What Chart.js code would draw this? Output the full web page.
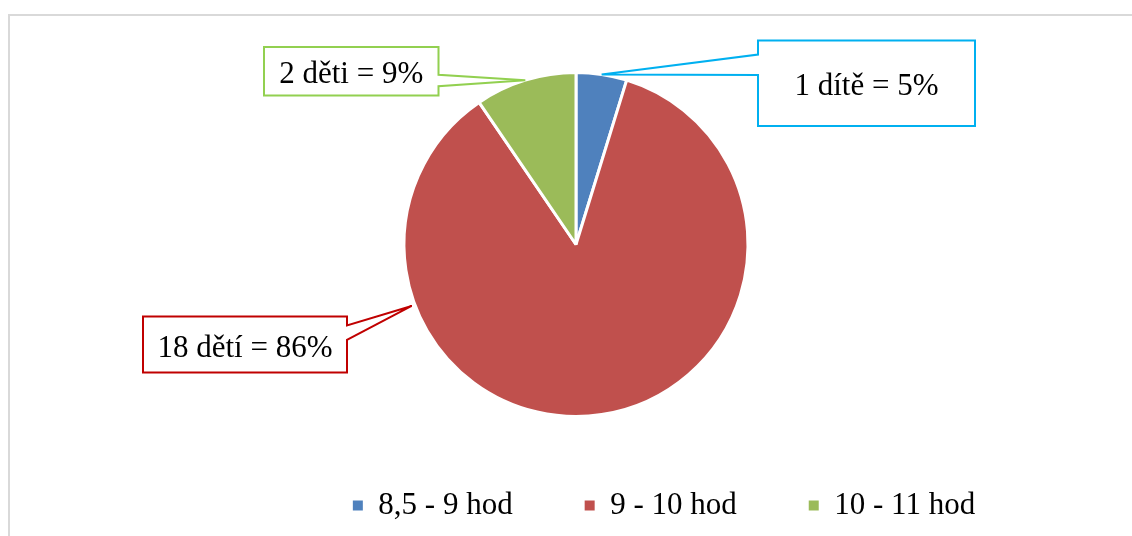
<!DOCTYPE html>
<html>
<head>
<meta charset="utf-8">
<script src="https://cdn.jsdelivr.net/npm/chart.js@4.4.1/dist/chart.umd.min.js"></script>
<style>
body { margin: 0; overflow: hidden; background: #fff; }
#frame { position: absolute; left: 8px; top: 14px; width: 1132px; height: 530px; border: 2px solid #D9D9D9; }
canvas { display: block; }
</style>
</head>
<body>
<div id="frame"><canvas id="pieCanvas" width="1132" height="520"></canvas></div>
<script>
var categories = ['8,5 - 9 hod', '9 - 10 hod', '10 - 11 hod'];
var childCounts = [1, 18, 2];
var calloutTexts = ['1 dítě = 5%', '18 dětí = 86%', '2 děti = 9%'];
var sliceColors = ['#4F81BD', '#C0504D', '#9BBB59'];
var calloutColors = ['#00B0F0', '#C00000', '#92D050'];

var fontFamily = "'Liberation Serif', 'Times New Roman', serif";

// callout boxes as offsets from the pie centre, b1/b2 = where the pointer leaves the box
var calloutBoxes = [
    {x1: 182, y1: -204, x2: 399, y2: -118.5, side: 'left', b1: -190, b2: -169.5, tip: 0.5, r: 1.0},
    {x1: -433, y1: 72, x2: -229, y2: 128, side: 'right', b1: 81, b2: 95.3, tip: 0.753, r: 1.02},
    {x1: -312, y1: -197.5, x2: -137.5, y2: -149, side: 'right', b1: -169.7, b2: -158.3, tip: 0.5, r: 1.0}
];

var calloutPlugin = {
    id: 'callouts',
    afterDatasetsDraw: function(chart) {
        var ctx = chart.ctx;
        var arcs = chart.getDatasetMeta(0).data;
        arcs.forEach(function(arc, i) {
            var p = arc.getProps(['x', 'y', 'startAngle', 'endAngle', 'outerRadius'], true);
            var box = calloutBoxes[i];
            var a = p.startAngle + (p.endAngle - p.startAngle) * box.tip;
            var tipX = p.x + Math.cos(a) * p.outerRadius * box.r;
            var tipY = p.y + Math.sin(a) * p.outerRadius * box.r;
            var x1 = p.x + box.x1, x2 = p.x + box.x2;
            var y1 = p.y + box.y1, y2 = p.y + box.y2;

            ctx.save();
            ctx.beginPath();
            if (box.side == 'left') {
                ctx.moveTo(x1, y1);
                ctx.lineTo(x2, y1);
                ctx.lineTo(x2, y2);
                ctx.lineTo(x1, y2);
                ctx.lineTo(x1, p.y + box.b2);
                ctx.lineTo(tipX, tipY);
                ctx.lineTo(x1, p.y + box.b1);
            } else {
                ctx.moveTo(x1, y1);
                ctx.lineTo(x2, y1);
                ctx.lineTo(x2, p.y + box.b1);
                ctx.lineTo(tipX, tipY);
                ctx.lineTo(x2, p.y + box.b2);
                ctx.lineTo(x2, y2);
                ctx.lineTo(x1, y2);
            }
            ctx.closePath();
            ctx.fillStyle = '#fff';
            ctx.fill();
            ctx.lineWidth = 2;
            ctx.lineJoin = 'miter';
            ctx.strokeStyle = calloutColors[i];
            ctx.stroke();

            ctx.fillStyle = '#000';
            ctx.font = '31px ' + fontFamily;
            ctx.textAlign = 'center';
            ctx.textBaseline = 'alphabetic';
            ctx.fillText(calloutTexts[i], (x1 + x2) / 2, (y1 + y2) / 2 + 12);
            ctx.restore();
        });
    }
};

// legend in the original sits right of the pie centre
var legendShift = {
    id: 'legendShift',
    afterLayout: function(chart) {
        chart.legend.left += 88;
        chart.legend.right += 88;
    }
};

var ctx = document.getElementById('pieCanvas').getContext('2d');
var pieChart = new Chart(ctx, {
    type: 'pie',
    data: {
        labels: categories,
        datasets: [{
            data: childCounts,
            backgroundColor: sliceColors,
            borderColor: '#ffffff',
            borderWidth: 3
        }]
    },
    options: {
        responsive: false,
        animation: false,
        layout: {
            padding: {top: 55, bottom: 5, left: 0, right: 0}
        },
        plugins: {
            tooltip: {enabled: false},
            legend: {
                position: 'bottom',
                labels: {
                    boxWidth: 10,
                    boxHeight: 10,
                    padding: 72,
                    color: '#000',
                    font: {family: fontFamily, size: 31},
                    generateLabels: function(chart) {
                        var items = Chart.overrides.pie.plugins.legend.labels.generateLabels(chart);
                        items.forEach(function(it) {
                            it.lineWidth = 0;
                            it.strokeStyle = it.fillStyle;
                        });
                        return items;
                    }
                }
            }
        }
    },
    plugins: [calloutPlugin, legendShift]
});
</script>
</body>
</html>
